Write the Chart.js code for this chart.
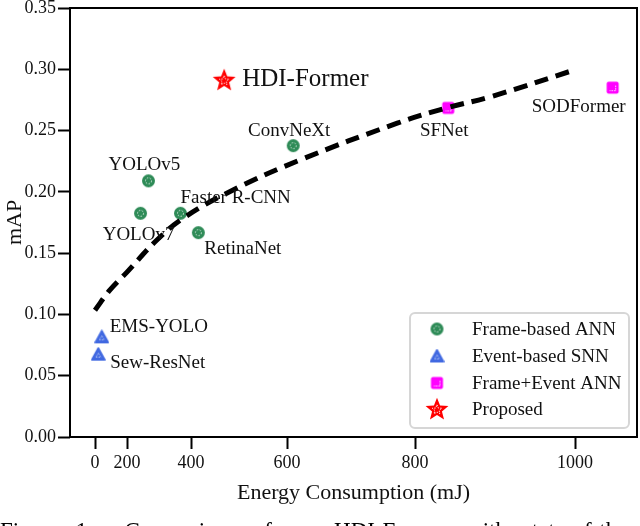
<!DOCTYPE html>
<html>
<head>
<meta charset="utf-8">
<script src="https://cdn.jsdelivr.net/npm/chart.js"></script>
<style>
  body { margin: 0; background: #fff; overflow: hidden; }
  #wrap { position: relative; width: 640px; height: 526px; overflow: hidden; }
  #caption {
    position: absolute; left: 0; top: 519px;
    font: 23px/24px "Liberation Serif", serif; color: #000;
    white-space: nowrap; word-spacing: 10px;
  }
</style>
</head>
<body>
<div id="wrap">
  <canvas id="c" width="640" height="526"></canvas>
  <div id="caption">Figure 1.&nbsp; Comparison of our HDI-Former with state-of-the-art methods</div>
</div>
<script>
// data (energy in mJ, mAP)
const frameAnnNames = ['YOLOv5', 'YOLOv7', 'Faster R-CNN', 'RetinaNet', 'ConvNeXt'];
const frameAnnEnergy = [279, 252, 373, 418, 611];
const frameAnnMap = [0.209, 0.1825, 0.1825, 0.1667, 0.2377];

const eventSnnNames = ['EMS-YOLO', 'Sew-ResNet'];
const eventSnnEnergy = [64, 35];
const eventSnnMap = [0.0817, 0.0676];

const fusionNames = ['SFNet', 'SODFormer'];
const fusionEnergy = [845, 1042];
const fusionMap = [0.2685, 0.285];

const proposedNames = ['HDI-Former'];
const proposedEnergy = [477];
const proposedMap = [0.2914];

// dashed trend curve
const fitEnergy = [0, 118, 200, 306, 385, 496, 623, 775, 843, 899, 1000];
const fitMap = [0.1035, 0.12, 0.1345, 0.1607, 0.1795, 0.2015, 0.226, 0.256, 0.2685, 0.2775, 0.2996];

const xTickValues = [0, 200, 400, 600, 800, 1000];

// label placement relative to each marker: [dx, dy, align, fontSize]
const labelOffsets = {
  'YOLOv5': [-4, -16, 'center'],
  'YOLOv7': [-2, 22, 'center'],
  'Faster R-CNN': [0, -15, 'left'],
  'RetinaNet': [6, 16, 'left'],
  'ConvNeXt': [-4, -15, 'center'],
  'SFNet': [-4, 23, 'center'],
  'SODFormer': [13, 19, 'right'],
  'EMS-YOLO': [8, -10, 'left'],
  'Sew-ResNet': [12, 9, 'left'],
  'HDI-Former': [18, 0, 'left', 25]
};

const SERIF = '"Liberation Serif", "Times New Roman", serif';

// marker images
function makeMarker(kind, color) {
  const size = kind === 'star' ? 26 : 15;
  const c = document.createElement('canvas');
  c.width = c.height = size;
  const g = c.getContext('2d');
  const m = size / 2;
  g.fillStyle = color;
  g.strokeStyle = color;
  g.lineJoin = 'round';
  if (kind === 'circle') {
    g.beginPath(); g.arc(m, m, 6.5, 0, Math.PI * 2); g.fill();
    g.strokeStyle = 'rgba(255,255,255,0.8)'; g.lineWidth = 1; g.setLineDash([1.5, 1.5]);
    g.beginPath(); g.arc(m, m, 3, 0, Math.PI * 2); g.stroke();
  } else if (kind === 'triangle') {
    g.lineWidth = 1.5;
    g.beginPath(); g.moveTo(m, 1.2); g.lineTo(0.9, size - 1.8); g.lineTo(size - 0.9, size - 1.8); g.closePath();
    g.fill(); g.stroke();
    g.strokeStyle = 'rgba(255,255,255,0.8)'; g.lineWidth = 1; g.setLineDash([1, 1.5]);
    g.beginPath(); g.moveTo(m, m - 1); g.lineTo(m - 2.5, m + 3); g.lineTo(m + 2.5, m + 3); g.closePath(); g.stroke();
  } else if (kind === 'square') {
    g.beginPath(); g.roundRect(1.5, 1.5, size - 3, size - 3, 2); g.fill();
    g.strokeStyle = 'rgba(255,255,255,0.85)'; g.lineWidth = 1; g.setLineDash([1.5, 1]);
    g.beginPath(); g.moveTo(m + 3, m - 2); g.lineTo(m + 3, m + 3); g.lineTo(m - 3, m + 3); g.stroke();
  } else {
    const star = (ro, ri) => {
      g.beginPath();
      for (let i = 0; i < 10; i++) {
        const r = i % 2 ? ri : ro;
        const a = -Math.PI / 2 + i * Math.PI / 5;
        g.lineTo(m + r * Math.cos(a), m + 0.8 + r * Math.sin(a));
      }
      g.closePath();
    };
    star(12, 5.2); g.fill();
    g.strokeStyle = 'rgba(255,255,255,0.85)'; g.lineWidth = 1; g.setLineDash([1.5, 1.2]);
    star(5, 2.2); g.stroke();
  }
  return c;
}

const greenMk = makeMarker('circle', '#2e8b57');
const blueMk = makeMarker('triangle', '#4169e1');
const magMk = makeMarker('square', '#ff00ff');
const starMk = makeMarker('star', '#ff0000');

const BaseLinear = Chart.LinearScale || Chart.registry.getScale('linear');
const noPad = () => ({ left: 0, top: 0, right: 0, bottom: 0 });

// linear axis that does not reserve room for half tick labels
class TightLinear extends BaseLinear {
  _calculatePadding() { this.paddingLeft = this.paddingRight = this.paddingTop = this.paddingBottom = 0; }
  getPadding() { return noPad(); }
}
TightLinear.id = 'tightLinear';
TightLinear.defaults = BaseLinear.defaults;

// x axis with widening tick spacing, as in the figure
class QuadScale extends TightLinear {
  buildTicks() { return xTickValues.map(v => ({ value: v })); }
  _t(v) { const k = v / 200; return k * (k + 1); }
  getPixelForValue(v) {
    const tMin = this.options.tMin, tMax = this.options.tMax;
    return this.getPixelForDecimal((this._t(v) - tMin) / (tMax - tMin));
  }
  getValueForPixel(p) {
    const tMin = this.options.tMin, tMax = this.options.tMax;
    const t = tMin + this.getDecimalForPixel(p) * (tMax - tMin);
    return 200 * (-1 + Math.sqrt(Math.max(0, 1 + 4 * t))) / 2;
  }
}
QuadScale.id = 'quad';
QuadScale.defaults = BaseLinear.defaults;
Chart.register(TightLinear, QuadScale);

const toPts = (xs, ys) => xs.map((x, i) => ({ x: x, y: ys[i] }));

const labelsPlugin = {
  id: 'pointLabels',
  afterDatasetsDraw(chart) {
    const ctx = chart.ctx;
    ctx.save();
    ctx.fillStyle = '#111';
    ctx.textBaseline = 'middle';
    chart.data.datasets.forEach((ds, di) => {
      if (!ds.names) return;
      const meta = chart.getDatasetMeta(di);
      meta.data.forEach((pt, i) => {
        const name = ds.names[i];
        const o = labelOffsets[name] || [8, 0, 'left'];
        ctx.font = (o[3] || 19) + 'px ' + SERIF;
        ctx.textAlign = o[2];
        ctx.fillText(name, pt.x + o[0], pt.y + o[1]);
      });
    });
    ctx.restore();
  }
};

const framePlugin = {
  id: 'frameBox',
  afterDraw(chart) {
    const a = chart.chartArea, ctx = chart.ctx;
    ctx.save();
    ctx.strokeStyle = '#000';
    ctx.lineWidth = 2;
    ctx.strokeRect(a.left, a.top, a.right - a.left, a.bottom - a.top);

    // legend box
    const bx = a.right - 227, by = a.bottom - 124, bw = 219, bh = 115;
    ctx.fillStyle = 'rgba(255,255,255,0.85)';
    ctx.strokeStyle = '#d6d6d6';
    ctx.lineWidth = 2;
    ctx.beginPath(); ctx.roundRect(bx, by, bw, bh, 5); ctx.fill(); ctx.stroke();
    const rows = [16, 43, 70, 96];
    ctx.fillStyle = '#111';
    ctx.font = '19px ' + SERIF;
    ctx.textAlign = 'left';
    ctx.textBaseline = 'middle';
    chart.data.datasets.filter(d => d.inLegend).forEach((d, i) => {
      const img = d.pointStyle;
      ctx.drawImage(img, bx + 27 - img.width / 2, by + rows[i] - img.height / 2);
      ctx.fillText(d.label, bx + 62, by + rows[i] + 1);
    });
    ctx.restore();
  }
};

new Chart(document.getElementById('c'), {
  type: 'scatter',
  data: {
    datasets: [
      {
        label: 'Fit', data: toPts(fitEnergy, fitMap), showLine: true,
        borderColor: '#000', borderWidth: 5, borderDash: [14, 8], borderCapStyle: 'butt',
        pointRadius: 0, tension: 0.4, order: 0
      },
      { label: 'Frame-based ANN', names: frameAnnNames, data: toPts(frameAnnEnergy, frameAnnMap),
        pointStyle: greenMk, pointRadius: 7, inLegend: true, order: 1 },
      { label: 'Event-based SNN', names: eventSnnNames, data: toPts(eventSnnEnergy, eventSnnMap),
        pointStyle: blueMk, pointRadius: 7, inLegend: true, order: 2 },
      { label: 'Frame+Event ANN', names: fusionNames, data: toPts(fusionEnergy, fusionMap),
        pointStyle: magMk, pointRadius: 7, inLegend: true, order: 3 },
      { label: 'Proposed', names: proposedNames, data: toPts(proposedEnergy, proposedMap),
        pointStyle: starMk, pointRadius: 12, inLegend: true, order: 4 }
    ]
  },
  options: {
    responsive: false,
    animation: false,
    devicePixelRatio: 1,
    layout: { autoPadding: false, padding: { top: 8, right: 3, left: 0, bottom: 0 } },
    plugins: { legend: { display: false }, tooltip: { enabled: false } },
    scales: {
      x: {
        type: 'quad', tMin: -1.5625, tMax: 33.875,
        afterFit: s => { s.height = 89; },
        border: { display: false },
        grid: { drawOnChartArea: false, drawTicks: true, tickLength: 12, tickWidth: 2, tickColor: '#000' },
        ticks: { autoSkip: false, maxRotation: 0, color: '#111', padding: 3,
          font: { family: SERIF, size: 18 }, callback: v => String(v) },
        title: { display: true, text: 'Energy Consumption (mJ)', color: '#111',
          font: { family: SERIF, size: 22 }, padding: { top: 0, bottom: 20 } }
      },
      y: {
        type: 'tightLinear',
        min: 0, max: 0.35,
        afterFit: s => { s.width = 70; },
        border: { display: false },
        grid: { drawOnChartArea: false, drawTicks: true, tickLength: 12, tickWidth: 2, tickColor: '#000' },
        ticks: { stepSize: 0.05, color: '#111', padding: 2,
          font: { family: SERIF, size: 18 }, callback: v => v.toFixed(2) },
        title: { display: true, text: 'mAP', color: '#111',
          font: { family: SERIF, size: 22 }, padding: { top: 2, bottom: 0 } }
      }
    }
  },
  plugins: [labelsPlugin, framePlugin]
});
</script>
</body>
</html>
